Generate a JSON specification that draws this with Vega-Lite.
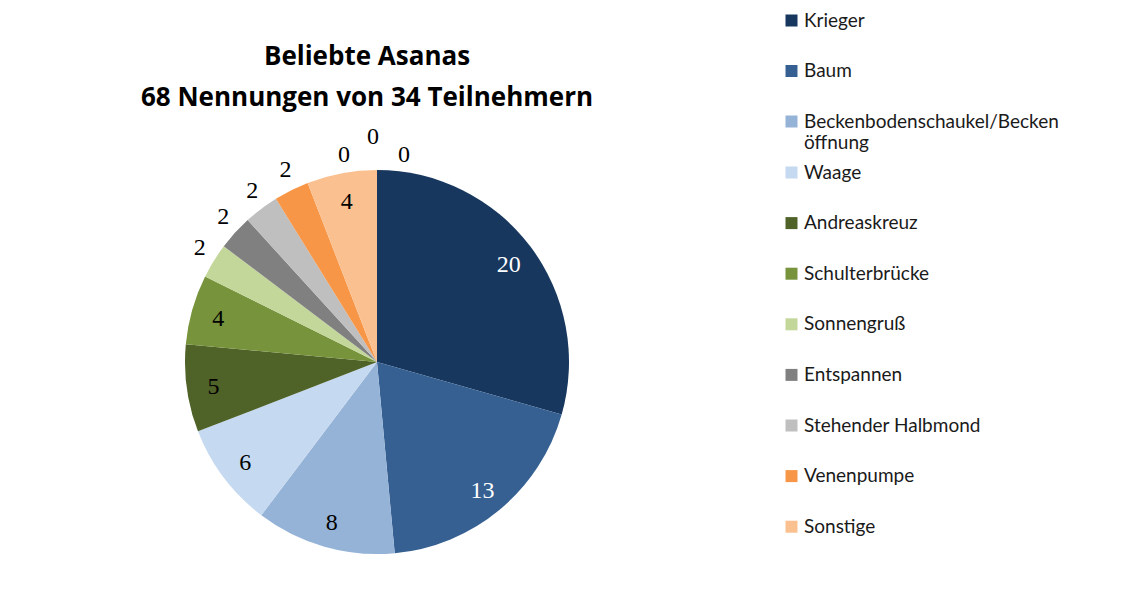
{
  "$schema": "https://vega.github.io/schema/vega-lite/v6.json",
  "width": 384,
  "height": 384,
  "autosize": {"type": "none"},
  "padding": {"left": 185, "top": 170, "right": 553, "bottom": 58},
  "background": "white",
  "config": {"view": {"stroke": null}},
  "title": {
    "text": ["Beliebte Asanas", "68 Nennungen von 34 Teilnehmern"],
    "font": "Open Sans",
    "fontSize": 26,
    "fontWeight": "bold",
    "color": "black",
    "anchor": "middle",
    "frame": "group",
    "dx": -10,
    "lineHeight": 41.5,
    "offset": -100
  },
  "data": {
    "values": [
      {"k": 1, "asana": "Krieger", "n": 20},
      {"k": 2, "asana": "Baum", "n": 13},
      {"k": 3, "asana": "Beckenbodenschaukel/Beckenöffnung", "n": 8},
      {"k": 4, "asana": "Waage", "n": 6},
      {"k": 5, "asana": "Andreaskreuz", "n": 5},
      {"k": 6, "asana": "Schulterbrücke", "n": 4},
      {"k": 7, "asana": "Sonnengruß", "n": 2},
      {"k": 8, "asana": "Entspannen", "n": 2},
      {"k": 9, "asana": "Stehender Halbmond", "n": 2},
      {"k": 10, "asana": "Venenpumpe", "n": 2},
      {"k": 11, "asana": "Sonstige", "n": 4},
      {"k": 12, "asana": "", "n": 0},
      {"k": 13, "asana": "", "n": 0},
      {"k": 14, "asana": "", "n": 0}
    ]
  },
  "transform": [
    {"stack": "n", "groupby": [], "sort": [{"field": "k", "order": "ascending"}], "as": ["s0", "s1"]}
  ],
  "layer": [
    {
      "transform": [{"filter": "datum.k <= 3"}],
      "mark": {"type": "arc", "outerRadius": 192},
      "encoding": {
        "theta": {"field": "s0", "type": "quantitative"},
        "theta2": {"field": "s1"},
        "color": {
          "field": "asana",
          "type": "nominal",
          "sort": null,
          "scale": {
            "domain": ["Krieger", "Baum", "Beckenbodenschaukel/Beckenöffnung"],
            "range": ["#17375E", "#366092", "#95B3D7"]
          },
          "legend": {
            "title": null,
            "orient": "none",
            "legendX": 597,
            "legendY": -159,
            "padding": 0,
            "symbolType": "square",
            "symbolSize": 144,
            "symbolStrokeWidth": 0,
            "labelFont": "Lato",
            "labelFontSize": 19,
            "labelColor": "#1a1a1a",
            "labelOffset": 3,
            "labelLimit": 400,
            "labelLineHeight": 25,
            "rowPadding": 30.5,
            "labelExpr": "datum.label == 'Beckenbodenschaukel/Beckenöffnung' ? ['Beckenbodenschaukel/Becken', 'öffnung'] : datum.label"
          }
        }
      }
    },
    {
      "transform": [{"filter": "datum.k >= 4 && datum.n > 0"}],
      "mark": {"type": "arc", "outerRadius": 192},
      "encoding": {
        "theta": {"field": "s0", "type": "quantitative"},
        "theta2": {"field": "s1"},
        "fill": {
          "field": "asana",
          "type": "nominal",
          "sort": null,
          "scale": {
            "domain": ["Waage", "Andreaskreuz", "Schulterbrücke", "Sonnengruß", "Entspannen", "Stehender Halbmond", "Venenpumpe", "Sonstige"],
            "range": ["#C5D9F1", "#4F6228", "#77933C", "#C4D79B", "#808080", "#BFBFBF", "#F79646", "#FAC090"]
          },
          "legend": {
            "title": null,
            "orient": "none",
            "legendX": 597,
            "legendY": -7,
            "padding": 0,
            "symbolType": "square",
            "symbolSize": 144,
            "symbolStrokeWidth": 0,
            "labelFont": "Lato",
            "labelFontSize": 19,
            "labelColor": "#1a1a1a",
            "labelOffset": 3,
            "labelLimit": 400,
            "rowPadding": 30.6
          }
        }
      }
    },
    {
      "mark": {"type": "text", "radius": 165, "dy": 2, "font": "Liberation Serif", "fontSize": 24},
      "encoding": {
        "theta": {"field": "n", "type": "quantitative", "stack": true},
        "order": {"field": "k", "type": "quantitative"},
        "text": {"condition": {"test": "datum.n >= 4", "field": "n", "type": "quantitative"}, "value": ""},
        "color": {"condition": {"test": "datum.n >= 13", "value": "white"}, "value": "black"}
      }
    },
    {
      "mark": {"type": "text", "radius": 212, "dy": -2, "dx": 3, "font": "Liberation Serif", "fontSize": 24, "color": "black"},
      "encoding": {
        "theta": {"field": "n", "type": "quantitative", "stack": true},
        "order": {"field": "k", "type": "quantitative"},
        "text": {"condition": {"test": "datum.n > 0 && datum.n < 4", "field": "n", "type": "quantitative"}, "value": ""}
      }
    },
    {
      "mark": {"type": "text", "radius": 207, "dx": -33, "font": "Liberation Serif", "fontSize": 24, "color": "black"},
      "encoding": {
        "theta": {"field": "n", "type": "quantitative", "stack": true},
        "order": {"field": "k", "type": "quantitative"},
        "text": {"condition": {"test": "datum.k == 12", "field": "n", "type": "quantitative"}, "value": ""}
      }
    },
    {
      "mark": {"type": "text", "radius": 225, "dx": -4, "font": "Liberation Serif", "fontSize": 24, "color": "black"},
      "encoding": {
        "theta": {"field": "n", "type": "quantitative", "stack": true},
        "order": {"field": "k", "type": "quantitative"},
        "text": {"condition": {"test": "datum.k == 13", "field": "n", "type": "quantitative"}, "value": ""}
      }
    },
    {
      "mark": {"type": "text", "radius": 207, "dx": 27, "font": "Liberation Serif", "fontSize": 24, "color": "black"},
      "encoding": {
        "theta": {"field": "n", "type": "quantitative", "stack": true},
        "order": {"field": "k", "type": "quantitative"},
        "text": {"condition": {"test": "datum.k == 14", "field": "n", "type": "quantitative"}, "value": ""}
      }
    }
  ]
}
